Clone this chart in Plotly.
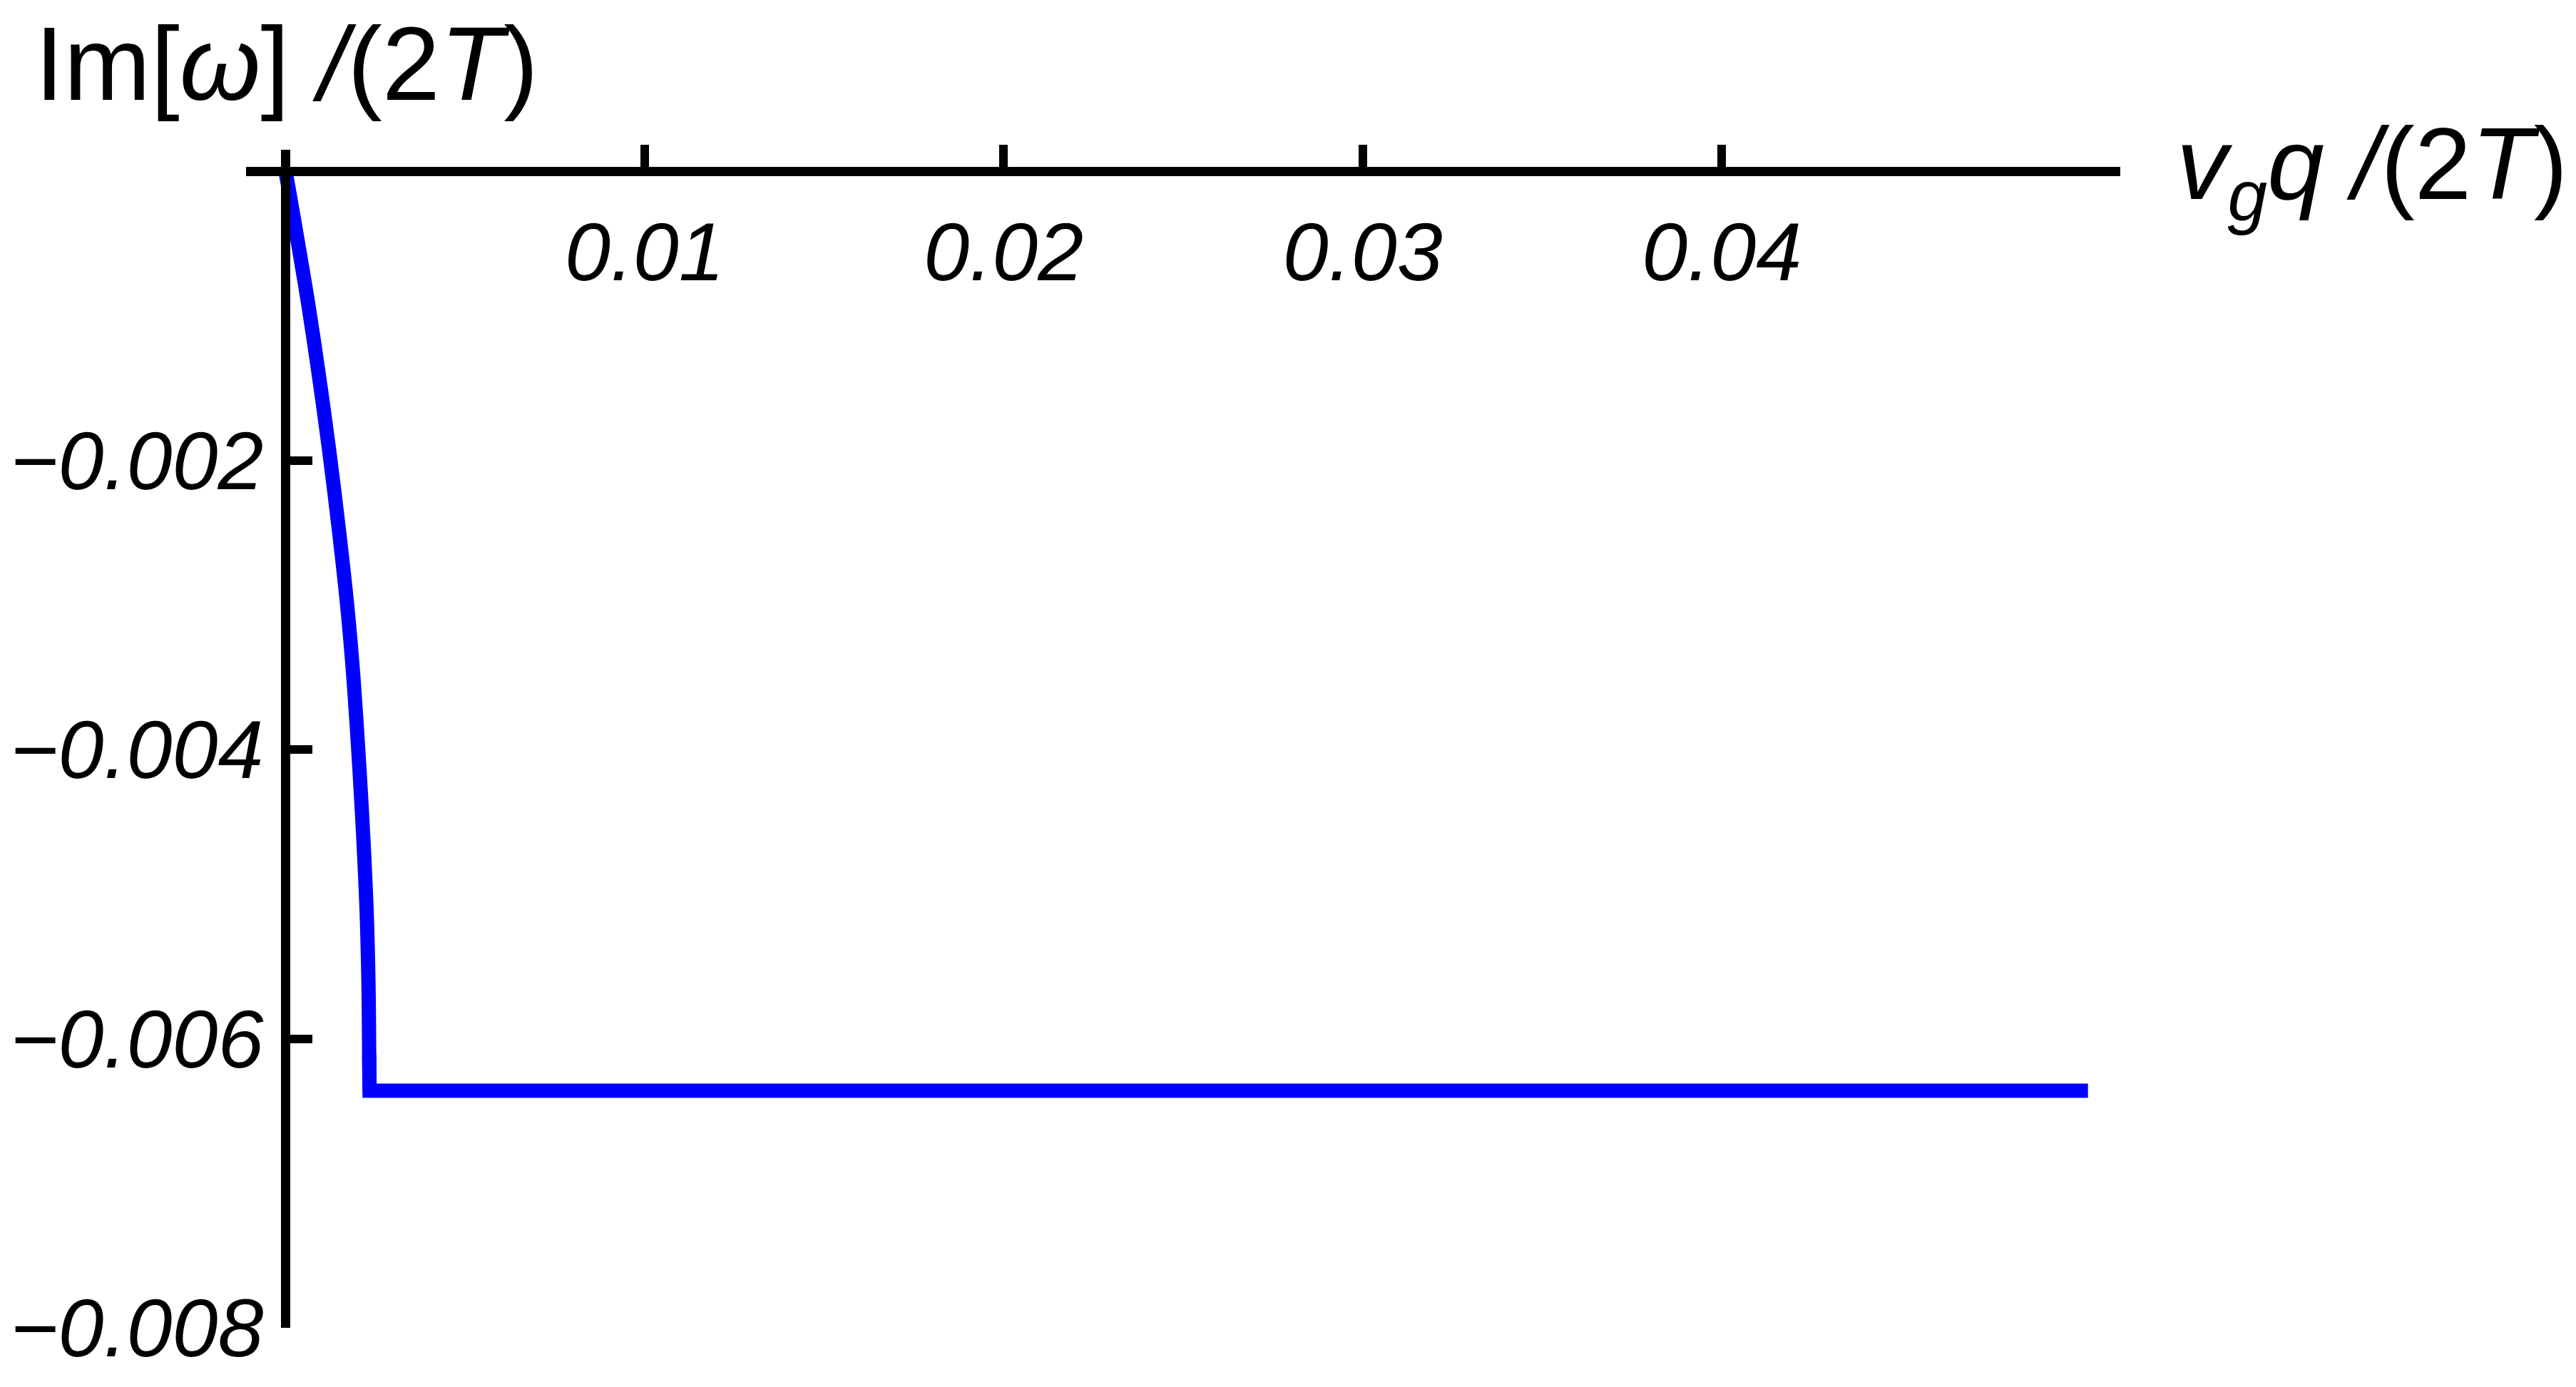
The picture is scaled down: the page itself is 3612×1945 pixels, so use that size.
import plotly.graph_objects as go

# curved part: v_g q/(2T) vs Im[w]/(2T)
q_curve = [0.0, 0.00008, 0.00031, 0.00064, 0.00094, 0.00121, 0.00150, 0.00172,
           0.00189, 0.00206, 0.00217, 0.00226, 0.00231, 0.00233, 0.00234]
im_curve = [0.0, -0.00011, -0.00044, -0.00093, -0.00143, -0.00192, -0.00251, -0.00301,
            -0.00350, -0.00414, -0.00463, -0.00513, -0.00562, -0.00611, -0.00636]
# plateau (starts with the last curve step so the corner stays sharp)
q_flat = [0.00233, 0.00234, 0.0502]
im_flat = [-0.00611, -0.00636, -0.00636]

x_ticks = [0.01, 0.02, 0.03, 0.04]
x_ticktext = ["0.01", "0.02", "0.03", "0.04"]
y_ticks = [-0.002, -0.004, -0.006, -0.008]
y_ticktext = ["\u22120.002", "\u22120.004", "\u22120.006", "\u22120.008"]

x_range = [-0.0011, 0.0511]
y_range = [-0.008, 0.00015]

FONT = "Liberation Sans"
BLUE = "#0000ff"
tick_font = dict(family=FONT, size=115, color="black", style="italic")

fig = go.Figure()
fig.add_trace(go.Scatter(x=q_curve, y=im_curve, mode="lines",
                         line=dict(color=BLUE, width=20, shape="spline", smoothing=1),
                         hoverinfo="skip", showlegend=False))
fig.add_trace(go.Scatter(x=q_flat, y=im_flat, mode="lines",
                         line=dict(color=BLUE, width=20),
                         hoverinfo="skip", showlegend=False))

# axes cross at the origin, like Mathematica's default
y0_pos = (0 - y_range[0]) / (y_range[1] - y_range[0])
x0_pos = (0 - x_range[0]) / (x_range[1] - x_range[0])

fig.update_xaxes(range=x_range, anchor="free", position=y0_pos, side="bottom",
                 showline=True, linewidth=13, linecolor="black",
                 ticks="inside", ticklen=31, tickwidth=12, tickcolor="black",
                 tickvals=x_ticks, ticktext=x_ticktext, tickfont=tick_font,
                 ticklabelstandoff=8, automargin=False,
                 showgrid=False, zeroline=False)
fig.update_yaxes(range=y_range, anchor="free", position=x0_pos, side="left",
                 showline=True, linewidth=13, linecolor="black",
                 ticks="inside", ticklen=31, tickwidth=12, tickcolor="black",
                 tickvals=y_ticks, ticktext=y_ticktext, tickfont=tick_font,
                 ticklabelstandoff=2, automargin=False,
                 showgrid=False, zeroline=False)

fig.add_annotation(text="<i>v</i><sub><i>g</i></sub><i>q</i> <i>/</i>(2<i>T</i>)",
                   xref="paper", x=1, xanchor="left", xshift=77,
                   yref="y", y=0, yanchor="middle",
                   showarrow=False, font=dict(family=FONT, size=143, color="black"))
fig.add_annotation(text="Im[<i>\u03c9</i>] <i>/</i>(2<i>T</i>)",
                   xref="paper", x=0, xanchor="left", xshift=-297,
                   yref="paper", y=1, yanchor="bottom", yshift=38, borderpad=0,
                   showarrow=False, font=dict(family=FONT, size=146, color="black"))

# page body adds an 8px offset, so the figure is a bit smaller than the window
fig.update_layout(width=3604, height=1937,
                  margin=dict(l=337, r=639, t=202, b=83),
                  paper_bgcolor="white", plot_bgcolor="white")

fig.write_html("out.html")
